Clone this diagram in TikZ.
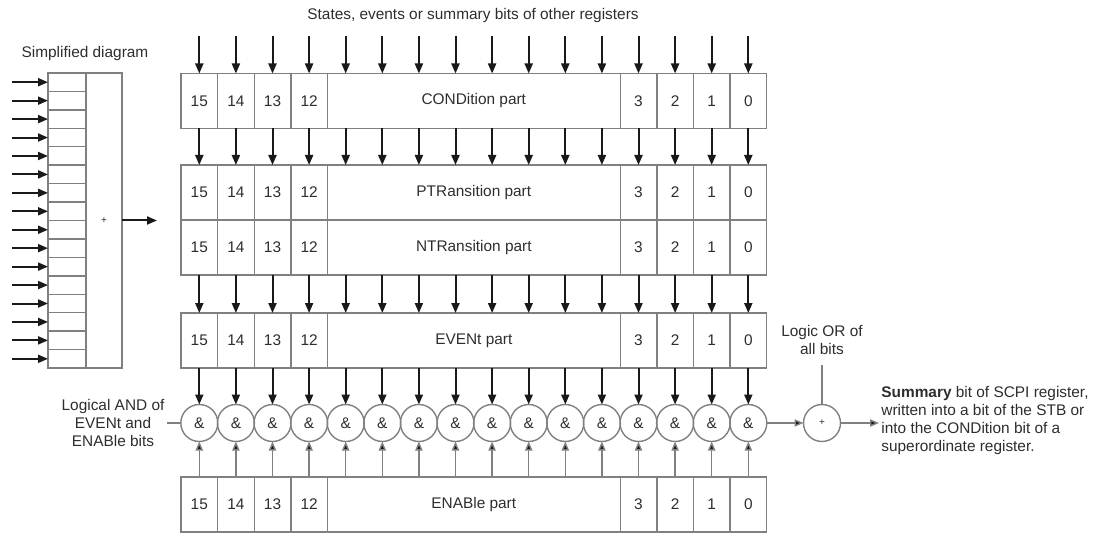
\documentclass[tikz,border=0pt]{standalone}
\usepackage{fontspec}
\setmainfont{Liberation Sans}
\usepackage{tikz}
\usetikzlibrary{arrows.meta, positioning, fit}
\definecolor{boxline}{RGB}{128,128,128}
\definecolor{ink}{RGB}{45,45,45}
\definecolor{wire}{RGB}{25,25,25}

\begin{document}
\begin{tikzpicture}[
    x=0.5pt, y=-0.5pt,
    font=\fontsize{7.7pt}{9pt}\selectfont, text=ink,
    slot/.style={rectangle, minimum width=18.3pt, minimum height=27.5pt, inner sep=0pt, outer sep=0pt},
    bitcell/.style={slot, draw=boxline, line width=0.7pt},
    partbox/.style={rectangle, draw=boxline, line width=0.7pt, inner sep=0pt, outer sep=0pt},
    simprow/.style={rectangle, draw=boxline, line width=0.7pt, minimum width=19pt, minimum height=9.22pt, inner sep=0pt, outer sep=0pt},
    sig/.style={draw=wire, line width=1pt, -{Triangle[length=5pt,width=4pt]}},
    thinsig/.style={draw=boxline, line width=0.7pt, -{Triangle[length=4.5pt,width=3.6pt,fill=wire]}},
    gate/.style={circle, draw=boxline, line width=0.7pt, minimum size=18.5pt, inner sep=0pt, outer sep=0pt},
    note/.style={align=center, inner sep=1pt},
    tinyplus/.style={font=\fontsize{5pt}{5pt}\selectfont},
]
\useasboundingbox (0,0) rectangle (1096,534);

% registers
\foreach \reg/\y/\txt in {cond/101/CONDition part, ptr/192.5/PTRansition part, ntr/247.5/NTRansition part, even/340.5/EVENt part, enab/504.5/ENABle part} {
  \foreach \c in {4,...,11}
    \node[slot] (\reg-\c) at ({199.3+36.6*\c}, \y) {};
  \foreach \c/\b in {0/15,1/14,2/13,3/12,12/3,13/2,14/1,15/0}
    \node[bitcell] (\reg-\c) at ({199.3+36.6*\c}, \y) {\b};
  \node[partbox, fit=(\reg-4)(\reg-11), label={[inner sep=0pt]center:\txt}] (\reg-part) {};
}

% bit paths and AND gates
\foreach \c in {0,...,15} {
  \coordinate (top-\c) at ({199.3+36.6*\c}, 36);
  \node[gate] (and-\c) at ({199.3+36.6*\c}, 423) {\&};
  \draw[sig] (top-\c) -- (cond-\c.north);
  \draw[sig] (cond-\c.south) -- (ptr-\c.north);
  \draw[sig] (ntr-\c.south) -- (even-\c.north);
  \draw[sig] (even-\c.south) -- (and-\c.north);
  \draw[thinsig] (enab-\c.north) -- (and-\c.south);
}

% simplified diagram
\foreach \r in {0,...,15} {
  \node[simprow] (simp-\r) at (67, {73+18.44*(\r+0.5)}) {};
  \coordinate (in-\r) at (12, {73+18.44*(\r+0.5)});
  \draw[sig] (in-\r) -- (simp-\r.west);
}
\node[partbox, minimum width=18pt, minimum height=147.5pt, tinyplus] (simp-sum) at (104, 220.5) {+};
\coordinate (simp-out) at (157, 220.5);
\draw[sig] (simp-sum.east) -- (simp-out);

% OR and labels
\node[gate, tinyplus] (or) at (822, 423) {+};
\draw[thinsig] (and-15.east) -- (or.west);

\node[note] (simp-title) at (85, 54) {Simplified diagram};
\node[note] (top-title) at (473, 16) {States, events or summary bits of other registers};
\node[note, left=7pt of and-0] (and-note) {Logical AND of\\EVENt and\\ENABle bits};
\draw[boxline, line width=0.7pt] (and-note.east) -- (and-0.west);
\node[note] (or-note) at (822, 339.5) {Logic OR of\\all bits};
\draw[boxline, line width=0.7pt, shorten <=4pt] (or-note.south) -- (or.north);
\node[note, align=left, anchor=west] (summary) at (879, 421) {\textbf{Summary} bit of SCPI register,\\written into a bit of the STB or\\into the CONDition bit of a\\superordinate register.};
\draw[thinsig] (or.east) -- (or.east -| summary.west);
\end{tikzpicture}
\end{document}
